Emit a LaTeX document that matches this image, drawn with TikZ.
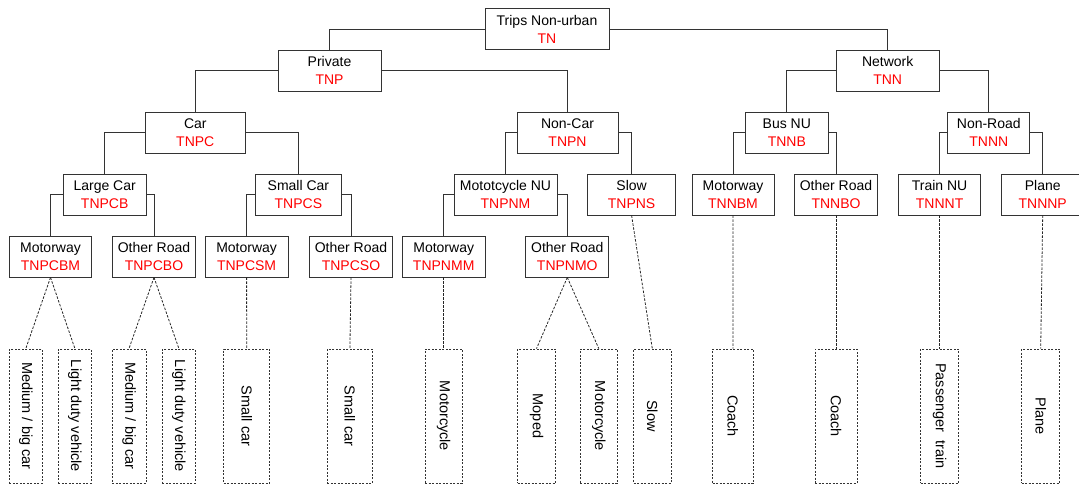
\documentclass[tikz,border=0pt]{standalone}
\usepackage{fontspec}
\setmainfont{Liberation Sans}
\newcommand{\code}[1]{{\color{red}#1}}
\begin{document}
\begin{tikzpicture}[x=1pt,y=-1pt,
  box/.style={draw=black!80,line width=0.9pt,minimum height=41pt,inner sep=0pt,
    align=center,font=\fontsize{14}{18}\selectfont},
  leaf/.style={draw=black!80,line width=0.8pt,dash pattern=on 2pt off 1.5pt,
    minimum height=134pt,inner sep=0pt,font=\fontsize{14.5}{16}\selectfont},
  link/.style={draw=black!80,line width=0.9pt},
  dlink/.style={draw=black!85,line width=0.8pt,dash pattern=on 2.5pt off 1.5pt}]
\useasboundingbox (0,0) rectangle (1079,484);
\clip (0,0) rectangle (1079,484);
% level 1 and 2
\node[box,minimum width=124] (tn) at (547,29.2) {Trips Non-urban\\\code{TN}};
\node[box,minimum width=103] (tnp) at (329.5,70.7) {Private\\\code{TNP}};
\node[box,minimum width=103] (tnn) at (887.7,70.7) {Network\\\code{TNN}};
% level 3
\node[box,minimum width=100] (tnpc) at (195.3,132.7) {Car\\\code{TNPC}};
\node[box,minimum width=101] (tnpn) at (567.5,132.7) {Non-Car\\\code{TNPN}};
\node[box,minimum width=83] (tnnb) at (786.8,132.7) {Bus NU\\\code{TNNB}};
\node[box,minimum width=82] (tnnn) at (988.8,132.7) {Non-Road\\\code{TNNN}};
% level 4
\node[box,minimum width=83] (tnpcb) at (104.7,194.5) {Large Car\\\code{TNPCB}};
\node[box,minimum width=86] (tnpcs) at (298.4,194.5) {Small Car\\\code{TNPCS}};
\node[box,minimum width=103] (tnpnm) at (505.5,194.5) {Mototcycle NU\\\code{TNPNM}};
\node[box,minimum width=88] (tnpns) at (631.6,194.5) {Slow\\\code{TNPNS}};
\node[box,minimum width=82] (tnnbm) at (733,194.5) {Motorway\\\code{TNNBM}};
\node[box,minimum width=83.5] (tnnbo) at (836,194.5) {Other Road\\\code{TNNBO}};
\node[box,minimum width=82] (tnnnt) at (939.6,194.5) {Train NU\\\code{TNNNT}};
\node[box,minimum width=82] (tnnnp) at (1042.7,194.5) {Plane\\\code{TNNNP}};
% level 5
\node[box,minimum width=82] (tnpcbm) at (50.5,256.5) {Motorway\\\code{TNPCBM}};
\node[box,minimum width=83] (tnpcbo) at (154,256.5) {Other Road\\\code{TNPCBO}};
\node[box,minimum width=83] (tnpcsm) at (246.6,256.5) {Motorway\\\code{TNPCSM}};
\node[box,minimum width=83] (tnpcso) at (351,256.5) {Other Road\\\code{TNPCSO}};
\node[box,minimum width=83] (tnpnmm) at (443.7,256.5) {Motorway\\\code{TNPNMM}};
\node[box,minimum width=83] (tnpnmo) at (567.3,256.5) {Other Road\\\code{TNPNMO}};
% vehicle types
\node[leaf,minimum width=33] (v1) at (25.8,416) {\rotatebox{-90}{Medium / big car}};
\node[leaf,minimum width=33] (v2) at (74.9,416) {\rotatebox{-90}{Light duty vehicle}};
\node[leaf,minimum width=34] (v3) at (129,416) {\rotatebox{-90}{Medium / big car}};
\node[leaf,minimum width=33] (v4) at (178.9,416) {\rotatebox{-90}{Light duty vehicle}};
\node[leaf,minimum width=46] (v5) at (246.7,416) {\rotatebox{-90}{Small car}};
\node[leaf,minimum width=45] (v6) at (349.9,416) {\rotatebox{-90}{Small car}};
\node[leaf,minimum width=37] (v7) at (443.7,416) {\rotatebox{-90}{Motorcycle}};
\node[leaf,minimum width=38] (v8) at (536.5,416) {\rotatebox{-90}{Moped}};
\node[leaf,minimum width=37] (v9) at (598.8,416) {\rotatebox{-90}{Motorcycle}};
\node[leaf,minimum width=37.5] (v10) at (652.3,416) {\rotatebox{-90}{Slow}};
\node[leaf,minimum width=40.5] (v11) at (732.9,416) {\rotatebox{-90}{Coach}};
\node[leaf,minimum width=42] (v12) at (836,416) {\rotatebox{-90}{Coach}};
\node[leaf,minimum width=38] (v13) at (939.6,416) {\rotatebox{-90}{Passenger\ \ train}};
\node[leaf,minimum width=38] (v14) at (1040.7,416) {\rotatebox{-90}{Plane}};
% tree links
\draw[link] (tn.west) -| (tnp.north);
\draw[link] (tn.east) -| (tnn.north);
\draw[link] (tnp.west) -| (tnpc.north);
\draw[link] (tnp.east) -| (tnpn.north);
\draw[link] (tnn.west) -| (tnnb.north);
\draw[link] (tnn.east) -| (tnnn.north);
\draw[link] (tnpc.west) -| (tnpcb.north);
\draw[link] (tnpc.east) -| (tnpcs.north);
\draw[link] (tnpn.west) -| (tnpnm.north);
\draw[link] (tnpn.east) -| (tnpns.north);
\draw[link] (tnnb.west) -| (tnnbm.north);
\draw[link] (tnnb.east) -| (tnnbo.north);
\draw[link] (tnnn.west) -| (tnnnt.north);
\draw[link] (tnnn.east) -| (tnnnp.north);
\draw[link] (tnpcb.west) -| (tnpcbm.north);
\draw[link] (tnpcb.east) -| (tnpcbo.north);
\draw[link] (tnpcs.west) -| (tnpcsm.north);
\draw[link] (tnpcs.east) -| (tnpcso.north);
\draw[link] (tnpnm.west) -| (tnpnmm.north);
\draw[link] (tnpnm.east) -| (tnpnmo.north);
% dashed links to vehicle types
\foreach \a/\b in {tnpcbm/v1,tnpcbm/v2,tnpcbo/v3,tnpcbo/v4,tnpcsm/v5,tnpcso/v6,
  tnpnmm/v7,tnpnmo/v8,tnpnmo/v9,tnpns/v10,tnnbm/v11,tnnbo/v12,tnnnt/v13,tnnnp/v14}
  \draw[dlink] (\a.south) -- (\b.north);
\end{tikzpicture}
\end{document}
